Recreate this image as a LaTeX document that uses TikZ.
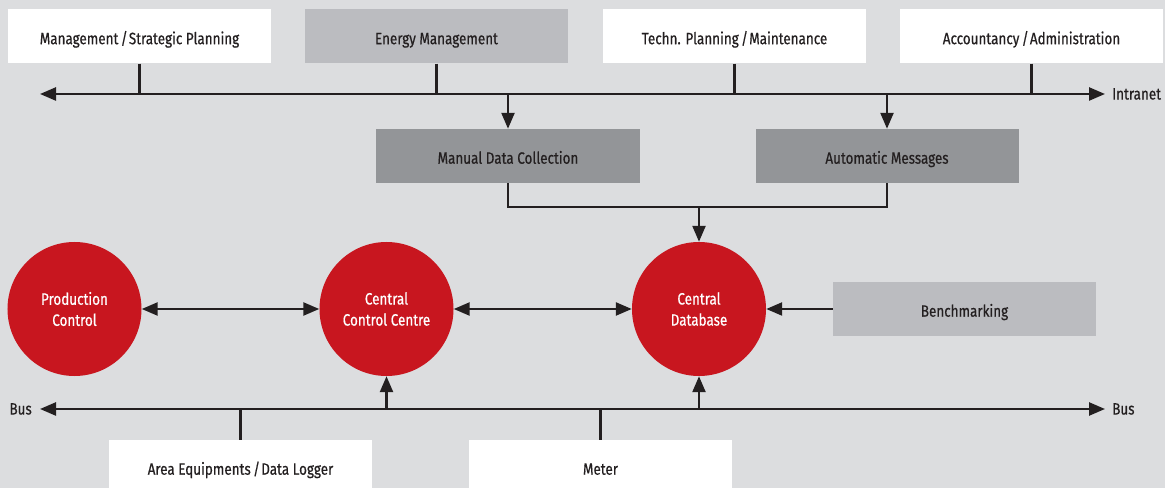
\documentclass[tikz,border=0pt]{standalone}
\usepackage{fontspec}
\setmainfont{Fira Sans}[FakeStretch=0.82, FakeBold=0.5]
\usepackage{tikz}
\usetikzlibrary{arrows.meta}
\definecolor{bggray}{HTML}{DCDDDF}
\definecolor{lightbox}{HTML}{BBBCC0}
\definecolor{darkbox}{HTML}{939598}
\definecolor{ired}{HTML}{C8161F}
\definecolor{ink}{HTML}{231F20}
\newcommand{\sep}{\kern2pt/\kern1pt}

\begin{document}
\begin{tikzpicture}[x=0.03cm, y=-0.03cm,
   every node/.style={font=\fontsize{14}{18}\selectfont, text=ink},
   unit/.style={minimum width=7.89cm, minimum height=1.62cm, inner sep=0pt, text height=13.2pt, text depth=0pt},
   whitebox/.style={unit, fill=white},
   lightbox/.style={unit, fill=lightbox},
   darkbox/.style={unit, fill=darkbox},
   station/.style={circle, fill=ired, minimum size=4.02cm, inner sep=0pt, align=center, text=white},
   link/.style={draw=ink, line width=2.1pt},
   tip/.style={-{Triangle[length=0.48cm, width=0.39cm]}},
   bothtips/.style={{Triangle[length=0.48cm, width=0.39cm]}-{Triangle[length=0.48cm, width=0.39cm]}}]
   \fill[bggray] (0,0) rectangle (1165,488);
   \useasboundingbox (0,0) rectangle (1165,488);
   \node[whitebox] (mgmt) at (139.5,36.5) {Management\sep Strategic Planning};
   \node[lightbox] (energy) at (436.5,36.5) {Energy Management};
   \node[whitebox] (techn) at (734.5,36.5) {Techn. Planning\sep Maintenance};
   \node[whitebox] (account) at (1031.5,36.5) {Accountancy\sep Administration};
   \coordinate (ileft) at (40,94);
   \coordinate (iright) at (1105,94);
   \node[anchor=west, inner sep=0pt] (intranet) at (1112,94) {Intranet};
   \node[darkbox] (manual) at (508,156) {Manual Data Collection};
   \node[darkbox] (auto) at (887,156) {Automatic Messages};
   \coordinate (join) at (699,207);
   \node[station] (prod) at (74.5,309) {Production\\Control};
   \node[station] (ccc) at (386.5,309) {Central\\Control Centre};
   \node[station] (cdb) at (699,309) {Central\\Database};
   \node[lightbox] (bench) at (964.5,309) {Benchmarking};
   \coordinate (bleft) at (40,409);
   \coordinate (bright) at (1105,409);
   \node[anchor=east, inner sep=0pt] (busl) at (32,409) {Bus};
   \node[anchor=west, inner sep=0pt] (busr) at (1112,409) {Bus};
   \node[whitebox] (area) at (240.5,467) {Area Equipments\sep Data Logger};
   \node[whitebox] (meter) at (600.5,467) {Meter};

   \draw[link, bothtips] (ileft) -- (iright);
   \foreach \n in {mgmt,energy,techn,account}
     \draw[link] (\n) -- (\n |- ileft);
   \draw[link, tip] (manual |- ileft) -- (manual);
   \draw[link, tip] (auto |- ileft) -- (auto);
   \draw[link] (manual.south) -- (manual.south |- join) -- (auto.south |- join) -- (auto.south);
   \draw[link, tip] (join) -- (cdb);
   \draw[link, bothtips] (prod) -- (ccc);
   \draw[link, bothtips] (ccc) -- (cdb);
   \draw[link, tip] (bench) -- (cdb);
   \draw[link, bothtips] (bleft) -- (bright);
   \draw[link, tip] (ccc |- bleft) -- (ccc);
   \draw[link, tip] (cdb |- bleft) -- (cdb);
   \draw[link] (area) -- (area |- bleft);
   \draw[link] (meter) -- (meter |- bleft);
\end{tikzpicture}
\end{document}
